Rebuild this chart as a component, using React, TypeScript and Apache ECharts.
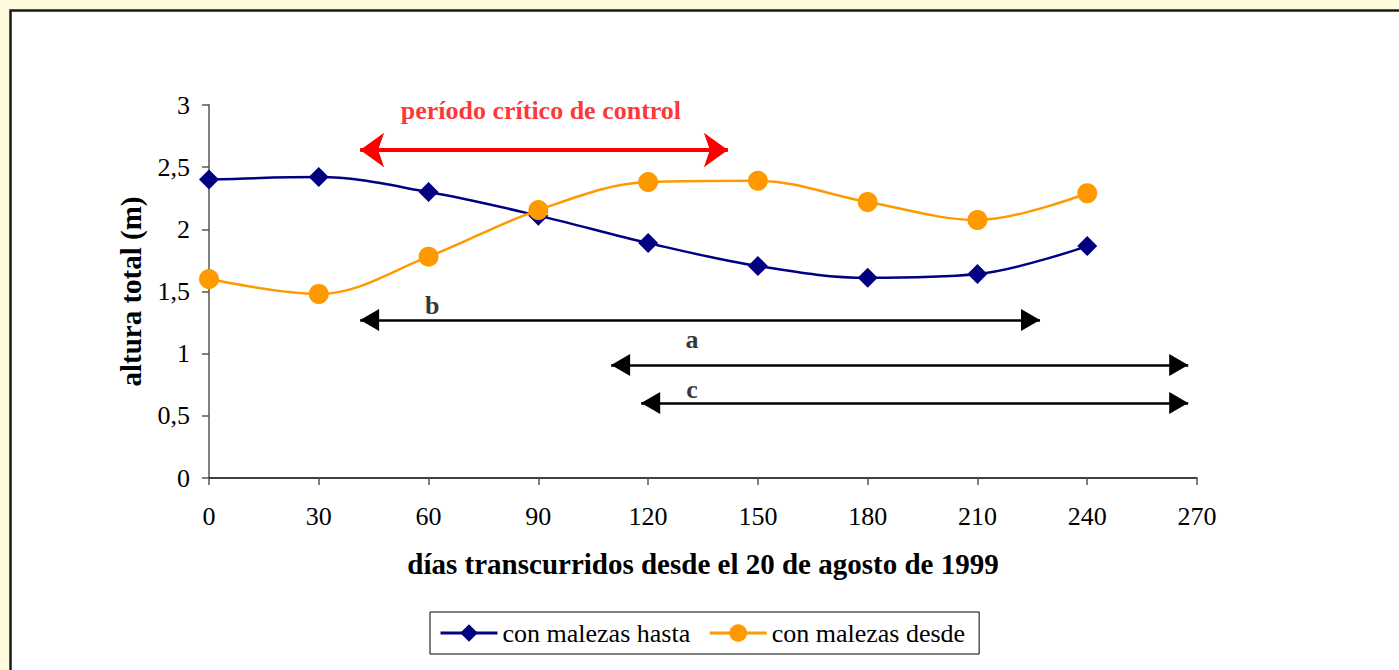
import React, { useEffect, useRef } from "react";
import * as echarts from "echarts";

const days = [0, 30, 60, 90, 120, 150, 180, 210, 240];
const conMalezasHasta = [2.4, 2.42, 2.3, 2.11, 1.89, 1.705, 1.61, 1.64, 1.865];
const conMalezasDesde = [1.6, 1.48, 1.78, 2.155, 2.38, 2.39, 2.22, 2.075, 2.29];

// arrows: [start day, end day, height]
const criticalArrow = [41.3, 141.8, 2.638];
const criticalLabel = ["período crítico de control", 90.7, 2.955];
const periodArrows = [
  [41.3, 227.1, 1.271],
  [109.9, 267.6, 0.909],
  [118.1, 267.6, 0.603],
];
const periodLabels = [
  ["b", 61, 1.39],
  ["a", 132, 1.11],
  ["c", 132, 0.71],
];

const FONT = "'Liberation Serif', 'Times New Roman', serif";

export default function App() {
  const ref = useRef<HTMLDivElement>(null);
  useEffect(() => {
    if (!ref.current) return;
    const chart = echarts.init(ref.current, undefined, { renderer: "svg" });
    const arrowSeries = (
      data: number[][],
      color: string,
      width: number,
      symbol: string,
      size: number[],
      offset: number[]
    ) => ({
      type: "line",
      name: "arrows-" + color,
      data: [],
      silent: true,
      markLine: {
        silent: true,
        animation: false,
        symbol: [symbol, symbol],
        symbolSize: size,
        symbolOffset: [offset, offset],
        label: { show: false },
        lineStyle: { color, width, type: "solid" },
        emphasis: { disabled: true },
        data: data.map((a) => [
          { coord: [a[0], a[2]] },
          { coord: [a[1], a[2]] },
        ]),
      },
    });
    chart.setOption({
      animation: false,
      backgroundColor: "#FFFADC",
      textStyle: { fontFamily: FONT },
      graphic: [
        {
          type: "rect",
          shape: { x: 10.5, y: 10.5, width: 1500, height: 800 },
          style: { fill: "#ffffff", stroke: "#1a1a1a", lineWidth: 2.5 },
          z: -10,
          silent: true,
        },
      ],
      grid: { left: 209, right: 202, top: 105, bottom: 192, containLabel: false },
      xAxis: {
        type: "value",
        min: 0,
        max: 270,
        interval: 30,
        name: "días transcurridos desde el 20 de agosto de 1999",
        nameLocation: "middle",
        nameGap: 71,
        nameTextStyle: { fontFamily: FONT, fontSize: 29, fontWeight: "bold", color: "#000" },
        axisLine: { show: true, onZero: false, lineStyle: { color: "#000", width: 1.5 } },
        axisTick: { show: true, length: 7, lineStyle: { color: "#555", width: 1.5 } },
        axisLabel: { fontFamily: FONT, fontSize: 26, color: "#000", margin: 25 },
        splitLine: { show: false },
      },
      yAxis: {
        type: "value",
        min: 0,
        max: 3,
        interval: 0.5,
        name: "altura total (m)",
        nameLocation: "middle",
        nameGap: 64,
        nameRotate: 90,
        nameTextStyle: { fontFamily: FONT, fontSize: 29, fontWeight: "bold", color: "#000" },
        axisLine: { show: true, lineStyle: { color: "#808080", width: 2 } },
        axisTick: { show: true, length: 7, lineStyle: { color: "#555", width: 1.5 } },
        axisLabel: {
          fontFamily: FONT,
          fontSize: 26,
          color: "#000",
          margin: 19,
          formatter: (v: number) => String(v).replace(".", ","),
        },
        splitLine: { show: false },
      },
      legend: {
        data: ["con malezas hasta", "con malezas desde"],
        left: 430,
        top: 612,
        orient: "horizontal",
        backgroundColor: "#fff",
        borderColor: "#000",
        borderWidth: 1,
        borderRadius: 0,
        padding: [8, 14, 8, 9],
        itemGap: 18,
        itemWidth: 57,
        itemHeight: 22,
        lineStyle: { width: 3 },
        textStyle: { fontFamily: FONT, fontSize: 26, color: "#000" },
      },
      series: [
        {
          type: "line",
          name: "con malezas hasta",
          data: days.map((d, i) => [d, conMalezasHasta[i]]),
          smooth: 0.35,
          symbol: "diamond",
          symbolSize: 20,
          itemStyle: { color: "#000080" },
          lineStyle: { color: "#000080", width: 2.5 },
          z: 3,
        },
        {
          type: "line",
          name: "con malezas desde",
          data: days.map((d, i) => [d, conMalezasDesde[i]]),
          smooth: 0.35,
          symbol: "circle",
          symbolSize: 20,
          itemStyle: { color: "#FF9900" },
          lineStyle: { color: "#FF9900", width: 2.5 },
          z: 4,
        },
        arrowSeries([criticalArrow], "#FF0000", 4, "arrow", [26, 24], [0, 0]),
        arrowSeries(periodArrows, "#000000", 2.5, "triangle", [22, 19], [0, 9.5]),
        {
          type: "scatter",
          name: "notes",
          symbolSize: 0,
          silent: true,
          data: [
            {
              value: [criticalLabel[1], criticalLabel[2]],
              label: {
                show: true,
                position: "inside",
                formatter: String(criticalLabel[0]),
                color: "#FF0000",
                fontSize: 26,
                fontWeight: "bold",
                fontFamily: FONT,
              },
            },
            ...periodLabels.map((l) => ({
              value: [l[1], l[2]],
              label: {
                show: true,
                position: "inside",
                formatter: String(l[0]),
                color: "#000",
                fontSize: 26,
                fontWeight: "bold",
                fontFamily: FONT,
              },
            })),
          ],
        },
      ],
    });
    return () => chart.dispose();
  }, []);
  return (
    <div
      ref={ref}
      style={{ position: "fixed", left: 0, top: 0, width: 1399, height: 670, overflow: "hidden" }}
    />
  );
}
